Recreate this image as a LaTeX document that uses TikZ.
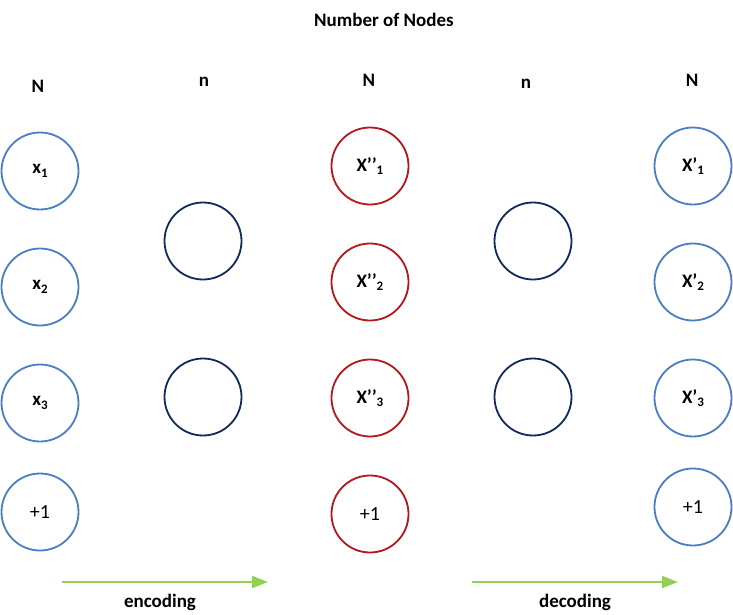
\documentclass[tikz,border=0pt]{standalone}
\usepackage{fontspec}
\setmainfont{Carlito}
\usetikzlibrary{arrows.meta}
\definecolor{cblue}{HTML}{4A7EC4}
\definecolor{cred}{HTML}{B5161C}
\definecolor{cnavy}{HTML}{102A5E}
\definecolor{cgreen}{HTML}{92D050}
\tikzset{
  unit/.style={circle, minimum size=77pt, inner sep=0pt, line width=1.8pt},
  inunit/.style={unit, draw=cblue},
  hidunit/.style={unit, draw=cnavy},
  midunit/.style={unit, draw=cred},
  lbl/.style={font=\fontsize{19}{22}\selectfont\bfseries},
  ulbl/.style={font=\fontsize{19}{22}\selectfont\bfseries},
  one/.style={font=\fontsize{20}{22}\selectfont},
  flow/.style={draw=cgreen, line width=2pt, -{Triangle[length=16pt,width=12pt]}},
}
\newcommand{\sbs}[1]{\raisebox{-0.35ex}{\fontsize{13}{15}\selectfont #1}}
\begin{document}
\begin{tikzpicture}[x=1pt,y=-1pt]
\useasboundingbox (0,0) rectangle (733,615);
\node[lbl] (title) at (384,20) {Number of Nodes};
\node[lbl] (h1) at (38,86) {N};
\node[lbl] (h2) at (204,82) {n};
\node[lbl] (h3) at (369,80) {N};
\node[lbl] (h4) at (526,84) {n};
\node[lbl] (h5) at (692,80) {N};
% input layer
\node[inunit, ulbl] (a1) at (40,171) {x\sbs{1}};
\node[inunit, ulbl] (a2) at (40,287) {x\sbs{2}};
\node[inunit, ulbl] (a3) at (40,403) {x\sbs{3}};
\node[inunit, one]  (a4) at (40,512) {+1};
% hidden 1
\node[hidunit] (b1) at (203,241) {};
\node[hidunit] (b2) at (203,397) {};
% middle
\node[midunit, ulbl] (c1) at (370,166) {X’’\sbs{1}};
\node[midunit, ulbl] (c2) at (370,282) {X’’\sbs{2}};
\node[midunit, ulbl] (c3) at (370,398) {X’’\sbs{3}};
\node[midunit, one]  (c4) at (370,514) {+1};
% hidden 2
\node[hidunit] (d1) at (533,241) {};
\node[hidunit] (d2) at (533,397) {};
% output
\node[inunit, ulbl] (e1) at (693,166) {X’\sbs{1}};
\node[inunit, ulbl] (e2) at (693,282) {X’\sbs{2}};
\node[inunit, ulbl] (e3) at (693,398) {X’\sbs{3}};
\node[inunit, one]  (e4) at (693,507) {+1};
% arrows
\coordinate (p1) at (62,582);
\coordinate (q1) at (268,582);
\coordinate (p2) at (472,582);
\coordinate (q2) at (678,582);
\draw[flow] (p1) -- (q1);
\draw[flow] (p2) -- (q2);
\node[lbl] (enc) at (160,602) {encoding};
\node[lbl] (dec) at (575,602) {decoding};
\end{tikzpicture}
\end{document}
